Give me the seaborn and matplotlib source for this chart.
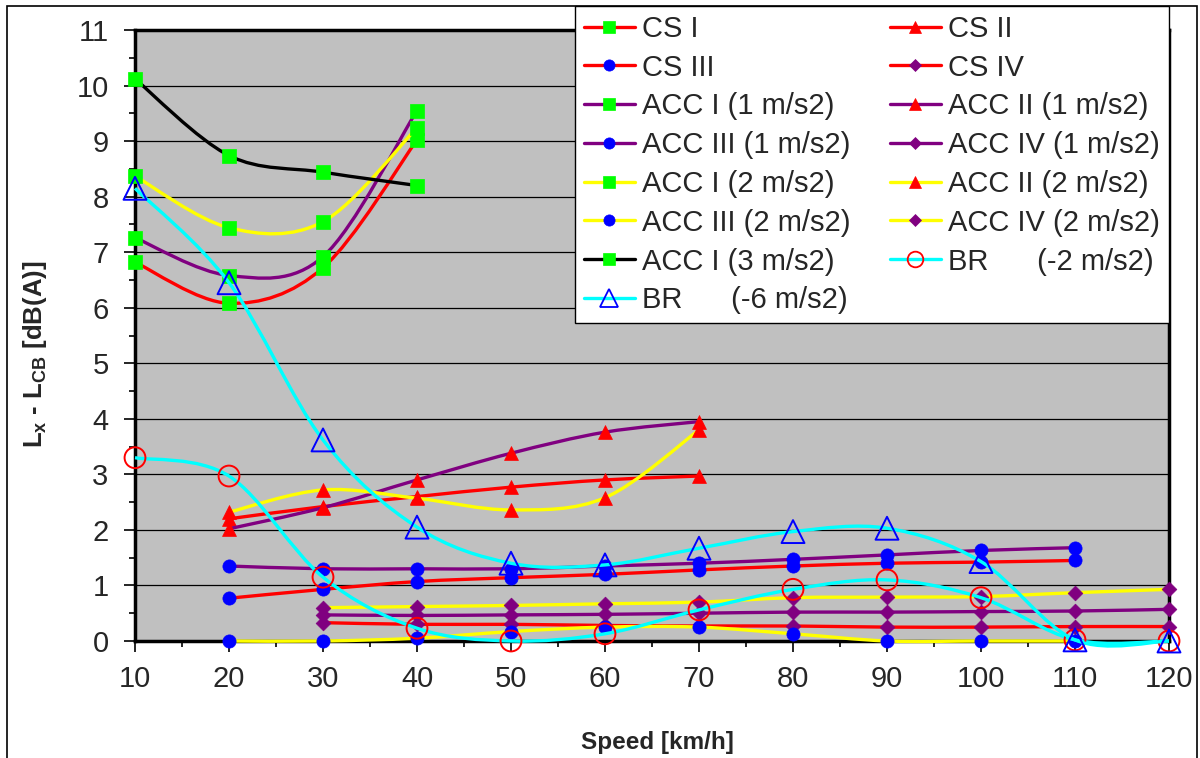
import numpy as np
import pandas as pd
import seaborn as sns
import matplotlib.pyplot as plt
from matplotlib.path import Path
from matplotlib.patches import PathPatch, Rectangle
from matplotlib.lines import Line2D
from matplotlib.ticker import MultipleLocator

# speeds (km/h) used by the different measurement series
speed_10_40 = [10, 20, 30, 40]
speed_20_70 = [20, 30, 40, 50, 60, 70]
speed_20_110 = [20, 30, 40, 50, 60, 70, 80, 90, 100, 110]
speed_30_120 = [30, 40, 50, 60, 70, 80, 90, 100, 110, 120]
speed_10_120 = [10, 20, 30, 40, 50, 60, 70, 80, 90, 100, 110, 120]

# Lx - LCB in dB(A)
cs_1 = [6.82, 6.08, 6.72, 9.02]
cs_2 = [2.2, 2.42, 2.6, 2.77, 2.9, 2.97]
cs_3 = [0.77, 0.93, 1.07, 1.14, 1.2, 1.28, 1.35, 1.4, 1.42, 1.45]
cs_4 = [0.33, 0.3, 0.3, 0.28, 0.27, 0.27, 0.25, 0.25, 0.26, 0.26]
acc1_1 = [7.26, 6.58, 6.92, 9.55]
acc2_1 = [2.02, 2.4, 2.9, 3.38, 3.76, 3.95]
acc3_1 = [1.35, 1.3, 1.3, 1.3, 1.35, 1.4, 1.47, 1.55, 1.63, 1.68]
acc4_1 = [0.47, 0.46, 0.47, 0.48, 0.5, 0.52, 0.52, 0.53, 0.54, 0.57]
acc1_2 = [8.37, 7.44, 7.55, 9.24]
acc2_2 = [2.32, 2.72, 2.57, 2.36, 2.58, 3.8]
acc3_2 = [0.0, 0.0, 0.05, 0.17, 0.25, 0.25, 0.13, 0.0, 0.0, 0.0]
acc4_2 = [0.6, 0.62, 0.64, 0.67, 0.7, 0.78, 0.79, 0.8, 0.87, 0.93]
acc1_3 = [10.12, 8.74, 8.44, 8.2]
br_2 = [3.3, 2.97, 1.15, 0.23, 0.0, 0.13, 0.56, 0.93, 1.1, 0.78, 0.02, 0.0]
br_6 = [8.15, 6.45, 3.62, 2.05, 1.4, 1.37, 1.67, 1.97, 2.03, 1.43, 0.02, 0.0]

labels = ['CS I', 'CS II', 'CS III', 'CS IV',
          'ACC I (1 m/s2)', 'ACC II (1 m/s2)', 'ACC III (1 m/s2)', 'ACC IV (1 m/s2)',
          'ACC I (2 m/s2)', 'ACC II (2 m/s2)', 'ACC III (2 m/s2)', 'ACC IV (2 m/s2)',
          'ACC I (3 m/s2)', 'BR      (-2 m/s2)', 'BR      (-6 m/s2)']
xs = [speed_10_40, speed_20_70, speed_20_110, speed_30_120,
      speed_10_40, speed_20_70, speed_20_110, speed_30_120,
      speed_10_40, speed_20_70, speed_20_110, speed_30_120,
      speed_10_40, speed_10_120, speed_10_120]
ys = [cs_1, cs_2, cs_3, cs_4, acc1_1, acc2_1, acc3_1, acc4_1,
      acc1_2, acc2_2, acc3_2, acc4_2, acc1_3, br_2, br_6]

# styles: line colour, marker, face, edge, marker size
RED, GREEN, BLUE, PURPLE = '#FF0000', '#00FF00', '#0000FF', '#800080'
YELLOW, CYAN = '#FFFF00', '#00FFFF'
mk = {
    'sq': ('s', GREEN, GREEN, 9.5),
    'tri': ('^', RED, RED, 10),
    'dot': ('o', BLUE, BLUE, 9.5),
    'dia': ('D', PURPLE, PURPLE, 7.5),
}
styles = [
    (RED,) + mk['sq'], (RED,) + mk['tri'], (RED,) + mk['dot'], (RED,) + mk['dia'],
    (PURPLE,) + mk['sq'], (PURPLE,) + mk['tri'], (PURPLE,) + mk['dot'], (PURPLE,) + mk['dia'],
    (YELLOW,) + mk['sq'], (YELLOW,) + mk['tri'], (YELLOW,) + mk['dot'], (YELLOW,) + mk['dia'],
    ('black',) + mk['sq'],
    (CYAN, 'o', 'none', RED, 15),
    (CYAN, '^', 'none', BLUE, 16.5),
]


def smooth_path(x, y):
    # Excel style smoothed line: cubic bezier through every point
    pts = np.column_stack([x, y]).astype(float)
    ext = np.vstack([pts[0], pts, pts[-1]])
    verts = [pts[0]]
    codes = [Path.MOVETO]
    for i in range(len(pts) - 1):
        p0, p1, p2, p3 = ext[i], ext[i + 1], ext[i + 2], ext[i + 3]
        verts += [p1 + (p2 - p0) / 6, p2 - (p3 - p1) / 6, p2]
        codes += [Path.CURVE4] * 3
    return Path(verts, codes)


sns.set_style('ticks')
plt.rcParams['font.family'] = ['Liberation Sans', 'DejaVu Sans']
plt.rcParams['mathtext.fontset'] = 'custom'
plt.rcParams['mathtext.rm'] = 'Liberation Sans:bold'
plt.rcParams['mathtext.bf'] = 'Liberation Sans:bold'

fig = plt.figure(figsize=(12, 7.58), dpi=100)
ax = fig.add_axes([135 / 1200, 1 - 641 / 758, 1034 / 1200, 611 / 758])
ax.set_facecolor('#C0C0C0')

handles = []
for i, (lab, x, y, st) in enumerate(zip(labels, xs, ys, styles)):
    lc, m, fc, ec, ms = st
    z = 3 + i
    ax.add_patch(PathPatch(smooth_path(x, y), fill=False, edgecolor=lc, lw=2.4,
                           transform=ax.transData, clip_on=False, zorder=z))
    df = pd.DataFrame({'speed': x, 'diff': y})
    if fc == 'none':
        ax.scatter(df['speed'], df['diff'], marker=m, s=ms ** 2, facecolors='none',
                   edgecolors=ec, linewidths=1.4, clip_on=False, zorder=z + 0.5)
    else:
        sns.scatterplot(data=df, x='speed', y='diff', marker=m, s=ms ** 2, color=fc,
                        edgecolor=ec, linewidth=0.5, clip_on=False, zorder=z + 0.5, ax=ax)
    handles.append(Line2D([], [], color=lc, lw=2.4, marker=m, markersize=ms * (0.75 if fc == 'none' else 0.85),
                          markerfacecolor=fc, markeredgecolor=ec,
                          markeredgewidth=1.3 if fc == 'none' else 0.5))

ax.set_xlim(10, 120)
ax.set_ylim(0, 11)
ax.xaxis.set_major_locator(MultipleLocator(10))
ax.xaxis.set_minor_locator(MultipleLocator(5))
ax.yaxis.set_major_locator(MultipleLocator(1))
ax.yaxis.set_minor_locator(MultipleLocator(0.5))
ax.tick_params(axis='both', which='major', length=8, width=1.2, color='black',
               labelsize=21, direction='out')
ax.tick_params(axis='x', which='major', pad=9)
ax.tick_params(axis='y', which='major', pad=11)
ax.tick_params(axis='both', which='minor', length=4, width=1.2, color='black', direction='out')
ax.yaxis.grid(True, color='black', lw=0.9)
ax.set_axisbelow(True)
for s in ax.spines.values():
    s.set_linewidth(2.5)
    s.set_color('black')
    s.set_visible(True)

ax.set_xlabel('Speed [km/h]', fontsize=17.5, fontweight='bold', va='center')
ax.xaxis.set_label_coords((657 - 135) / 1034, (641 - 742) / 611)
ax.set_ylabel(r'L$_\mathrm{x}$ - L$_\mathrm{CB}$ [dB(A)]', fontsize=18.5, fontweight='bold', va='center')
ax.yaxis.set_label_coords((35 - 135) / 1034, (641 - 354) / 611)

# legend laid out row by row like the original
order = [0, 2, 4, 6, 8, 10, 12, 14, 1, 3, 5, 7, 9, 11, 13]
leg = fig.legend([handles[k] for k in order], [labels[k] for k in order],
                 loc='upper left', bbox_to_anchor=(575 / 1200, 1 - 6 / 758), ncol=2,
                 fontsize=21, frameon=True, fancybox=False, edgecolor='black',
                 framealpha=1, borderpad=0.3, labelspacing=0.37, handlelength=1.75,
                 handletextpad=0.25, columnspacing=1.35, borderaxespad=0)
leg.get_frame().set_linewidth(1.0)
leg.set_zorder(30)

fig.patches.append(Rectangle((7 / 1200, -0.01), 1190 / 1200, 1.01 - 6 / 758, fill=False,
                             edgecolor='black', lw=1.2, transform=fig.transFigure))

plt.savefig('out.png', dpi=100)
